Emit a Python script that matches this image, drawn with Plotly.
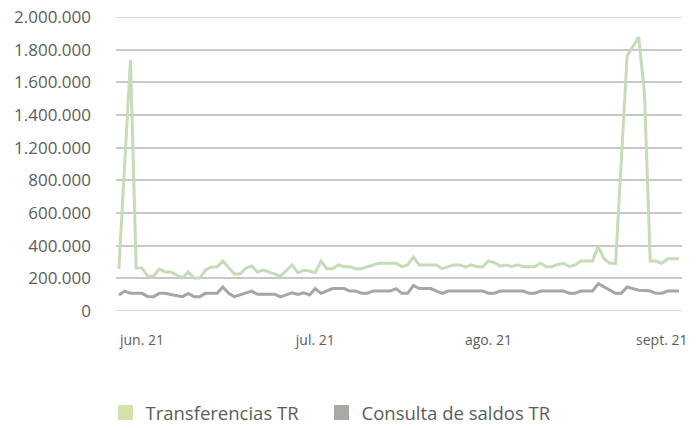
import pandas as pd
import plotly.graph_objects as go

# ---- data ----
dates = [d.strftime("%Y-%m-%d") for d in pd.date_range("2021-05-28", periods=98, freq="D")]

transferencias = [
    257000, 900000, 1538000, 263000, 263000, 214000, 214000, 257000, 239000, 239000,
    220000, 202000, 239000, 202000, 202000, 251000, 269000, 269000, 306000, 263000,
    226000, 226000, 263000, 275000, 239000, 251000, 239000, 226000, 214000, 248000,
    282000, 234000, 249000, 245000, 234000, 306000, 259000, 259000, 282000, 271000,
    271000, 259000, 259000, 271000, 282000, 292000, 292000, 292000, 292000, 271000,
    282000, 331000, 282000, 282000, 282000, 282000, 259000, 269000, 282000, 282000,
    269000, 282000, 271000, 271000, 306000, 296000, 275000, 282000, 271000, 282000,
    271000, 271000, 271000, 292000, 271000, 271000, 285000, 292000, 271000, 282000,
    306000, 306000, 306000, 394000, 320000, 292000, 292000, 926000, 1561000, 1619000,
    1677000, 1336000, 306000, 306000, 292000, 320000, 320000, 320000,
]

consulta_saldos = [
    98000, 122000, 108000, 108000, 108000, 88000, 88000, 108000, 108000, 101000,
    95000, 88000, 108000, 88000, 88000, 108000, 108000, 108000, 147000, 108000,
    88000, 98000, 110000, 122000, 102000, 102000, 102000, 102000, 86000, 101000,
    112000, 102000, 112000, 98000, 137000, 108000, 122000, 137000, 137000, 137000,
    122000, 122000, 108000, 108000, 122000, 122000, 122000, 122000, 137000, 108000,
    108000, 157000, 137000, 137000, 137000, 122000, 108000, 122000, 122000, 122000,
    122000, 122000, 122000, 122000, 108000, 108000, 122000, 122000, 122000, 122000,
    122000, 108000, 108000, 122000, 122000, 122000, 122000, 122000, 108000, 108000,
    122000, 122000, 122000, 167000, 147000, 127000, 108000, 108000, 147000, 137000,
    127000, 125000, 122000, 108000, 108000, 122000, 122000, 122000,
]

series_names = ["Transferencias TR", "Consulta de saldos TR"]

x_tick_dates = ["2021-06-01", "2021-07-01", "2021-07-31", "2021-08-30"]
x_tick_labels = ["jun. 21", "jul. 21", "ago. 21", "sept. 21"]

y_tick_values = [0, 200000, 400000, 600000, 800000, 1000000, 1200000, 1400000, 1600000, 1800000]
y_tick_labels = ["0", "200.000", "400.000", "600.000", "800.000",
                 "1.200.000", "1.400.000", "1.600.000", "1.800.000", "2.000.000"]

# ---- style ----
GREEN_LINE = "#c6dcb6"
GREY_LINE = "#a4a7a2"
GREEN_SWATCH = "#d3e2a8"
GREY_SWATCH = "#a6a9a4"
TEXT = "#5a6059"
GRID = "#c8c8c8"
FONT = "Open Sans"

fig = go.Figure()
fig.add_trace(go.Scatter(x=dates, y=transferencias, mode="lines", name=series_names[0],
                         line=dict(color=GREEN_LINE, width=3), showlegend=False))
fig.add_trace(go.Scatter(x=dates, y=consulta_saldos, mode="lines", name=series_names[1],
                         line=dict(color=GREY_LINE, width=3), showlegend=False))
# legend swatches (squares), one legend box per series
for name, col, leg in zip(series_names, [GREEN_SWATCH, GREY_SWATCH], ["legend", "legend2"]):
    fig.add_trace(go.Scatter(x=[None], y=[None], mode="markers", name=name, legend=leg,
                             marker=dict(symbol="square", size=15, color=col)))

# horizontal guide lines at every y tick (drawn beneath the traces)
for v in y_tick_values:
    fig.add_hline(y=v, line=dict(color=GRID, width=1.5), layer="below")

legend_style = dict(orientation="h", xref="container", yref="container",
                    xanchor="left", y=0.0357, yanchor="middle",
                    font=dict(size=18.5, color=TEXT), bgcolor="rgba(0,0,0,0)")

# page body has an 8px margin, so the figure is drawn 8px smaller and offset
fig.update_layout(
    template="none",
    width=688, height=420,
    margin=dict(l=108, r=14, t=9, b=117, autoexpand=False),
    paper_bgcolor="white", plot_bgcolor="white",
    font=dict(family=FONT, color=TEXT),
    legend=dict(x=0.1417, **legend_style),
    legend2=dict(x=0.4557, **legend_style),
)
fig.update_xaxes(type="category", range=[-0.5, len(dates) - 0.5], automargin=False,
                 tickmode="array", tickvals=x_tick_dates, ticktext=x_tick_labels,
                 showgrid=False, zeroline=False, showline=False, ticks="",
                 tickfont=dict(size=14, color=TEXT), ticklabelstandoff=19,
                 ticklabeloverflow="allow")
fig.update_yaxes(range=[0, 1800000], automargin=False, tickmode="array",
                 tickvals=y_tick_values, ticktext=y_tick_labels,
                 showgrid=True, gridcolor=GRID, gridwidth=1.5,
                 zeroline=False, showline=False, ticks="",
                 tickfont=dict(size=17, color=TEXT), ticklabelstandoff=24,
                 ticklabeloverflow="allow")

fig.write_html("out.html")
